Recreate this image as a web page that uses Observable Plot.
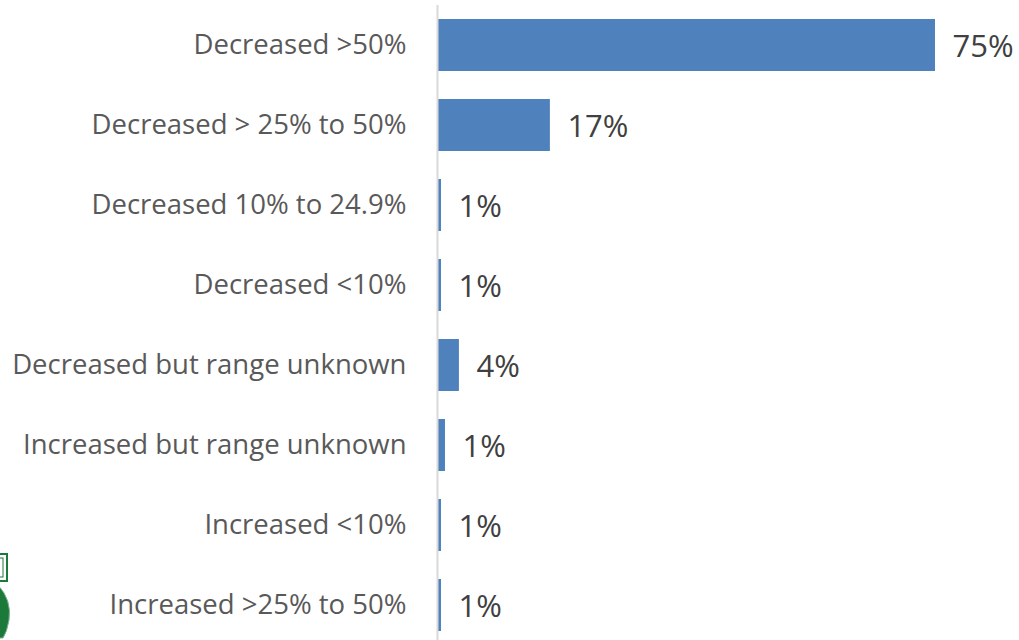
<!DOCTYPE html>
<html>
<head>
<meta charset="utf-8">
<script src="https://cdn.jsdelivr.net/npm/d3@7"></script>
<script src="https://cdn.jsdelivr.net/npm/@observablehq/plot@0.6"></script>
<style>
  html, body { margin: 0; padding: 0; background: #fff; }
  #wrap { position: relative; width: 1019px; height: 640px; overflow: hidden; }
  #logo { position: absolute; left: 0; top: 0; }
</style>
</head>
<body>
<div id="wrap"></div>
<script>
const categories = [
  "Decreased >50%",
  "Decreased > 25% to 50%",
  "Decreased 10% to 24.9%",
  "Decreased <10%",
  "Decreased but range unknown",
  "Increased but range unknown",
  "Increased <10%",
  "Increased >25% to 50%"
];
const values = [75, 17, 0.6, 0.6, 3.3, 1.2, 0.6, 0.6];
const valueLabels = ["75%", "17%", "1%", "1%", "4%", "1%", "1%", "1%"];

const data = categories.map((c, i) => ({category: c, value: values[i], label: valueLabels[i]}));

const chart = Plot.plot({
  width: 1019,
  height: 645,
  marginLeft: 437,
  marginRight: 84,
  marginTop: 5,
  marginBottom: 0,
  style: {fontFamily: "'Open Sans', sans-serif", background: "#fff", overflow: "visible"},
  x: {domain: [0, 75], axis: null},
  y: {domain: categories, paddingInner: 0.35, paddingOuter: 0.175, label: null},
  marks: [
    Plot.barX(data, {x: "value", y: "category", fill: "#4f81bd", insetLeft: 1}),
    Plot.ruleX([0], {stroke: "#d9d9d9", strokeWidth: 2}),
    Plot.text(data, {x: "value", y: "category", text: "label", textAnchor: "start", dx: 17, dy: 2, fontSize: 31, fill: "#404040"}),
    Plot.axisY({tickSize: 0, tickPadding: 31, fontSize: 27.5, fill: "#595959", label: null})
  ]
});
document.getElementById("wrap").appendChild(chart);

// decorative partial logo at bottom-left (cropped in the original)
const logo = document.createElementNS("http://www.w3.org/2000/svg", "svg");
logo.setAttribute("id", "logo");
logo.setAttribute("width", "20");
logo.setAttribute("height", "640");
logo.innerHTML = `
  <rect x="-4" y="554" width="11" height="27" fill="none" stroke="#1b7a3a" stroke-width="2"/>
  <rect x="-4" y="558" width="7" height="19" fill="none" stroke="#1b7a3a" stroke-width="1"/>
  <path d="M -2 585 Q 12 600 9 620 Q 7 632 3 638 L -2 638 Z" fill="#1b7a3a" stroke="#7fb08f" stroke-width="1"/>
`;
document.getElementById("wrap").appendChild(logo);
</script>
</body>
</html>
